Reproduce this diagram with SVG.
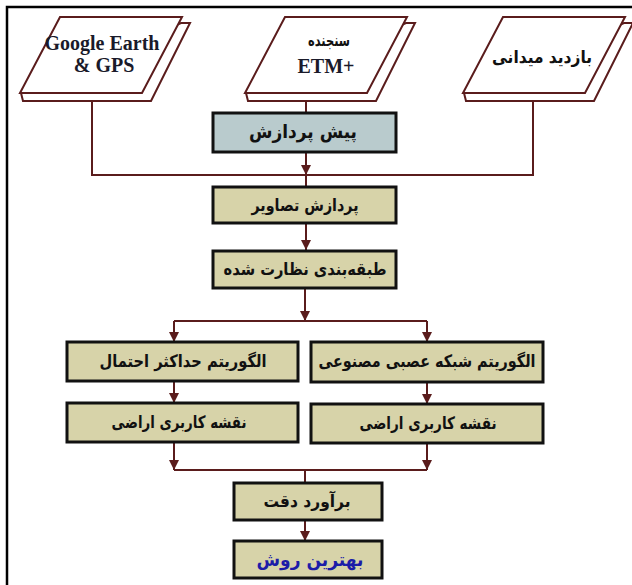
<svg xmlns="http://www.w3.org/2000/svg" width="632" height="585" viewBox="0 0 632 585">
<style>
.frame{fill:none;stroke:#000;stroke-width:2.5}
.para{fill:#fff;stroke:#5a1c1c;stroke-width:2;stroke-linejoin:miter}
.box{fill:#d7d3a9;stroke:#111;stroke-width:3}
.pre{fill:#b9cbcd}
.conn{fill:none;stroke:#5a1c1c;stroke-width:2}
.en{font-family:"Liberation Serif","Times New Roman",serif;font-weight:bold;font-size:20px;fill:#1a1a2a;text-anchor:middle}
.fa{font-family:"DejaVu Sans",sans-serif;font-weight:bold;font-size:17px;fill:#111;text-anchor:middle;direction:rtl}
.blue{fill:#1c1ca8}
</style>
<defs>
<marker id="arr" viewBox="0 0 10 10" refX="10" refY="5" markerWidth="10" markerHeight="10" markerUnits="userSpaceOnUse" orient="auto">
<path d="M0,0 L10,5 L0,10 z" fill="#5a1c1c"/>
</marker>
</defs>
<rect class="frame" x="7" y="7" width="640" height="600"/>
<g id="connectors">
<path class="conn" d="M92,101 V175 H533 V101"/>
<path class="conn" d="M306,101 V113"/>
<path class="conn" d="M306,152 V175" marker-end="url(#arr)"/>
<path class="conn" d="M306,175 V187"/>
<path class="conn" d="M306,223 V250" marker-end="url(#arr)"/>
<path class="conn" d="M305,288 V321" marker-end="url(#arr)"/>
<path class="conn" d="M174,321 H427"/>
<path class="conn" d="M174,321 V342" marker-end="url(#arr)"/>
<path class="conn" d="M427,321 V342" marker-end="url(#arr)"/>
<path class="conn" d="M174,381 V403" marker-end="url(#arr)"/>
<path class="conn" d="M427,382 V404" marker-end="url(#arr)"/>
<path class="conn" d="M174,470 H427"/>
<path class="conn" d="M174,442 V470" marker-end="url(#arr)"/>
<path class="conn" d="M427,443 V470" marker-end="url(#arr)"/>
<path class="conn" d="M305,470 V483"/>
<path class="conn" d="M305,520 V541" marker-end="url(#arr)"/>
</g>
<g id="google">
<polygon class="para" points="21,93 23,101 151,101 190,23 181,23"/>
<polygon class="para" points="20,93 142,93 182,17 60,17"/>
<text class="en" x="102" y="50">Google Earth</text>
<text class="en" x="104" y="72">&amp; GPS</text>
</g>
<g id="etm">
<polygon class="para" points="246,93 248,101 376,101 415,23 406,23"/>
<polygon class="para" points="245,93 367,93 407,17 285,17"/>
<text class="fa" x="329" y="46" style="font-size:16px" textLength="42" lengthAdjust="spacingAndGlyphs">سنجنده</text>
<text class="en" x="326" y="73">ETM+</text>
</g>
<g id="field">
<polygon class="para" points="464,93 466,101 594,101 633,23 624,23"/>
<polygon class="para" points="463,93 585,93 625,17 503,17"/>
<text class="fa" x="542" y="63" textLength="100" lengthAdjust="spacingAndGlyphs">بازدید میدانی</text>
</g>
<g id="preprocess">
<rect class="box pre" x="213" y="113" width="183" height="39"/>
<text class="fa" x="303" y="138" style="font-size:19px" textLength="108" lengthAdjust="spacingAndGlyphs">پیش پردازش</text>
</g>
<g id="imageproc">
<rect class="box" x="213" y="187" width="183" height="36"/>
<text class="fa" x="305" y="211" textLength="107" lengthAdjust="spacingAndGlyphs">پردازش تصاویر</text>
</g>
<g id="supervised">
<rect class="box" x="213" y="251" width="183" height="37"/>
<text class="fa" x="305" y="275" textLength="163" lengthAdjust="spacingAndGlyphs">طبقه‌بندی نظارت شده</text>
</g>
<g id="ml">
<rect class="box" x="67" y="342" width="231" height="39"/>
<text class="fa" x="183" y="367" textLength="167" lengthAdjust="spacingAndGlyphs">الگوریتم حداکثر احتمال</text>
</g>
<g id="ann">
<rect class="box" x="311" y="342" width="232" height="40"/>
<text class="fa" x="427" y="367" textLength="217" lengthAdjust="spacingAndGlyphs">الگوریتم شبکه عصبی مصنوعی</text>
</g>
<g id="map1">
<rect class="box" x="67" y="403" width="231" height="39"/>
<text class="fa" x="179" y="428" textLength="135" lengthAdjust="spacingAndGlyphs">نقشه کاربری اراضی</text>
</g>
<g id="map2">
<rect class="box" x="311" y="404" width="232" height="39"/>
<text class="fa" x="428" y="429" textLength="137" lengthAdjust="spacingAndGlyphs">نقشه کاربری اراضی</text>
</g>
<g id="accuracy">
<rect class="box" x="234" y="483" width="148" height="37"/>
<text class="fa" x="307" y="507" textLength="87" lengthAdjust="spacingAndGlyphs">برآورد دقت</text>
</g>
<g id="best">
<rect class="box" x="234" y="541" width="148" height="37"/>
<text class="fa blue" x="310" y="566" style="font-size:18px" textLength="107" lengthAdjust="spacingAndGlyphs">بهترین روش</text>
</g>
</svg>
